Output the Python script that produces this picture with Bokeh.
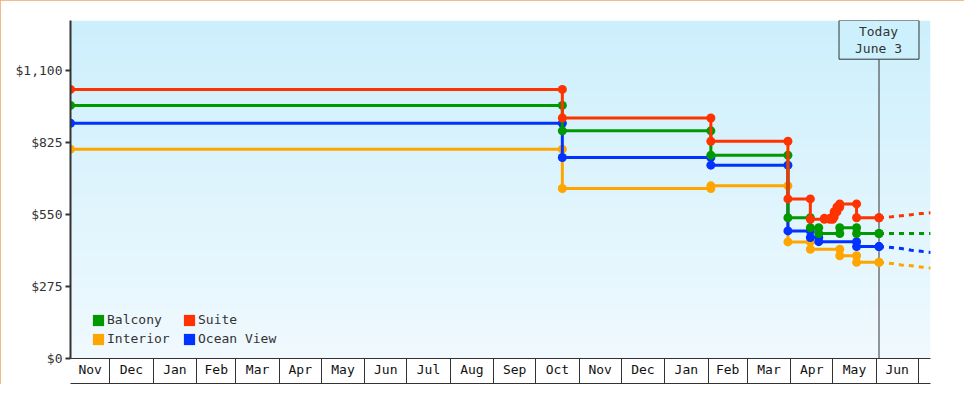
from datetime import datetime
import numpy as np
from bokeh.plotting import figure
from bokeh.models import (Range1d, LinearAxis, FixedTicker, NumeralTickFormatter,
                          Legend, LegendItem, Span, Label)
from bokeh.embed import file_html
from bokeh.resources import INLINE

# ---------------- data ----------------
balcony_dates = ["2020-11-03", "2021-10-20", "2022-02-03", "2022-03-30", "2022-04-15",
                 "2022-04-21", "2022-05-06", "2022-05-18", "2022-06-03"]
balcony_prices = [966, 869, 776, 537, 499, 477, 499, 477, 477]

suite_dates = ["2020-11-03", "2021-10-20", "2022-02-03", "2022-03-30", "2022-04-15",
               "2022-04-25", "2022-04-29", "2022-05-01", "2022-05-02", "2022-05-04",
               "2022-05-06", "2022-05-18", "2022-06-03"]
suite_prices = [1027, 918, 829, 609, 531, 535, 531, 540, 560, 578, 590, 537, 537]

ocean_dates = ["2020-11-03", "2021-10-20", "2022-02-03", "2022-03-30", "2022-04-15",
               "2022-04-21", "2022-05-18", "2022-06-03"]
ocean_prices = [898, 767, 738, 487, 462, 446, 427, 427]

interior_dates = ["2020-11-03", "2021-10-20", "2022-02-03", "2022-03-30", "2022-04-15",
                  "2022-05-06", "2022-05-18", "2022-06-03"]
interior_prices = [799, 649, 659, 445, 417, 392, 367, 367]

forecast_dates = ["2022-06-03", "2022-06-12", "2022-06-19", "2022-06-26", "2022-07-03", "2022-07-10"]
balcony_forecast = [477, 477, 477, 477, 477, 477]
suite_forecast = [537, 541, 545, 549, 553, 556]
ocean_forecast = [427, 424, 420, 413, 409, 405]
interior_forecast = [367, 363, 357, 354, 349, 345]

month_labels = ["Nov", "Dec", "Jan", "Feb", "Mar", "Apr", "May", "Jun", "Jul", "Aug", "Sep",
                "Oct", "Nov", "Dec", "Jan", "Feb", "Mar", "Apr", "May", "Jun"]
y_ticks = [0, 275, 550, 825, 1100]
today = "2022-06-03"
today_text = "Today\nJune 3"
x_start = datetime(2020, 11, 3, 0)
x_end = datetime(2022, 7, 9, 18)
y_top = 1290

series = [  # drawing order: bottom to top
    ("Interior", "#ffa500", interior_dates, interior_prices, interior_forecast),
    ("Ocean View", "#0033ff", ocean_dates, ocean_prices, ocean_forecast),
    ("Balcony", "#009900", balcony_dates, balcony_prices, balcony_forecast),
    ("Suite", "#ff3300", suite_dates, suite_prices, suite_forecast),
]
legend_order = ["Balcony", "Suite", "Interior", "Ocean View"]

FONT = "DejaVu Sans Mono"
TXT = "#333333"
NAN = float("nan")


def d(s):
    return datetime.strptime(s, "%Y-%m-%d")


EPOCH = datetime(1970, 1, 1)


def ms(dt):
    return int((dt - EPOCH).total_seconds() * 1000)


# month boxes for the x axis
month_starts = []
y0, m0 = 2020, 11
for i in range(len(month_labels) + 1):
    mm = m0 + i
    yy = y0 + (mm - 1) // 12
    mm = (mm - 1) % 12 + 1
    month_starts.append(datetime(yy, mm, 1))
label_pos = []
for i in range(len(month_labels)):
    a = max(ms(month_starts[i]), ms(x_start))
    b = min(ms(month_starts[i + 1]), ms(x_end))
    label_pos.append((a + b) // 2)
boundary_pos = [ms(m) for m in month_starts[1:] if ms(m) < ms(x_end)]

p = figure(width=964, height=384, output_backend="svg", toolbar_location=None,
           x_axis_type=None,
           x_range=Range1d(ms(x_start), ms(x_end)), y_range=Range1d(0, y_top),
           min_border_left=70, min_border_right=34, min_border_top=20, min_border_bottom=26)
p.grid.visible = False
p.outline_line_color = None
p.background_fill_color = "white"
p.border_fill_color = "white"
p.styles = {"outline": "1px solid #e9a862", "outline-offset": "-1px"}

# gradient background
n = 200
top_c = np.array([0xcc, 0xef, 0xfc], dtype=float)
bot_c = np.array([0xf0, 0xf9, 0xfe], dtype=float)
img = np.empty((n, 1), dtype=np.uint32)
view = img.view(dtype=np.uint8).reshape((n, 1, 4))
for i in range(n):
    t = i / (n - 1)
    c = bot_c + (top_c - bot_c) * t
    view[i, 0, 0] = int(round(c[0]))
    view[i, 0, 1] = int(round(c[1]))
    view[i, 0, 2] = int(round(c[2]))
    view[i, 0, 3] = 255
p.image_rgba(image=[img], x=ms(x_start), y=0, dw=ms(x_end) - ms(x_start), dh=y_top, level="image")

# today line
p.add_layout(Span(location=ms(d(today)), dimension="height", line_color=TXT,
                  line_width=1, level="underlay"))

swatches = {}
for name, col, dates, prices, fc in series:
    xs = [d(s) for s in dates]
    p.step(xs, prices, mode="after", line_color=col, line_width=3)
    mx, my = [], []
    for i, (x, v) in enumerate(zip(xs, prices)):
        if i > 0:
            mx.append(x)
            my.append(prices[i - 1])
        mx.append(x)
        my.append(v)
    p.scatter(mx, my, marker="circle", size=9, fill_color=col, line_color=None)
    p.line([d(s) for s in forecast_dates], fc, line_color=col, line_width=3, line_dash="5 5")
    swatches[name] = p.quad(left=[NAN], right=[NAN], top=[NAN], bottom=[NAN],
                            fill_color=col, line_color=None)

# y axis
ya = p.yaxis[0]
ya.ticker = FixedTicker(ticks=y_ticks, minor_ticks=[])
ya.formatter = NumeralTickFormatter(format="$0,0")
ya.axis_line_color = TXT
ya.axis_line_width = 2
ya.major_tick_line_color = TXT
ya.major_tick_line_width = 2
ya.major_tick_out = 5
ya.major_tick_in = 0
ya.minor_tick_line_color = None
ya.major_label_standoff = 3
ya.major_label_text_font = FONT
ya.major_label_text_font_size = "13px"
ya.major_label_text_color = TXT

# x axis: month labels (top line of the boxes)
xa = LinearAxis(ticker=FixedTicker(ticks=label_pos, minor_ticks=[]),
                major_label_overrides={k: v for k, v in zip(label_pos, month_labels)},
                axis_line_color=TXT, axis_line_width=1,
                major_tick_line_color=None, major_tick_out=0, major_tick_in=0,
                minor_tick_line_color=None, minor_tick_out=0, minor_tick_in=0,
                major_label_standoff=3,
                major_label_text_font=FONT, major_label_text_font_size="13px",
                major_label_text_color="#111111",
                axis_label=" ", axis_label_standoff=0,
                axis_label_text_font_size="1px", axis_label_text_alpha=0)
p.add_layout(xa, "below")
# box dividers and bottom line of the boxes
xb = LinearAxis(ticker=FixedTicker(ticks=boundary_pos, minor_ticks=[]),
                axis_line_color=TXT, axis_line_width=1,
                major_tick_line_color=TXT, major_tick_line_width=1,
                major_tick_in=25, major_tick_out=0,
                minor_tick_line_color=None, minor_tick_out=0, minor_tick_in=0,
                major_label_text_font_size="0px", major_label_text_alpha=0,
                major_label_standoff=0)
p.add_layout(xb, "below")

# today label
p.add_layout(Label(x=ms(d(today)), y=y_top, text=today_text, text_align="center",
                   text_baseline="top", text_font=FONT, text_font_size="13px",
                   text_color=TXT, text_line_height=1.18,
                   background_fill_color="#cdf0fd", border_line_color=TXT,
                   border_line_width=1, padding=(16, 17, 3, 3)))

legend = Legend(items=[LegendItem(label=nm, renderers=[swatches[nm]]) for nm in legend_order],
                location=(21, 12), orientation="horizontal", ncols=2,
                margin=0, padding=0, spacing=4,
                glyph_width=14, glyph_height=14, label_height=14, label_width=71,
                label_standoff=2,
                label_text_font=FONT, label_text_font_size="13px", label_text_color=TXT,
                background_fill_alpha=0, border_line_color=None)
p.add_layout(legend)

open("out.html", "w").write(file_html(p, INLINE))
